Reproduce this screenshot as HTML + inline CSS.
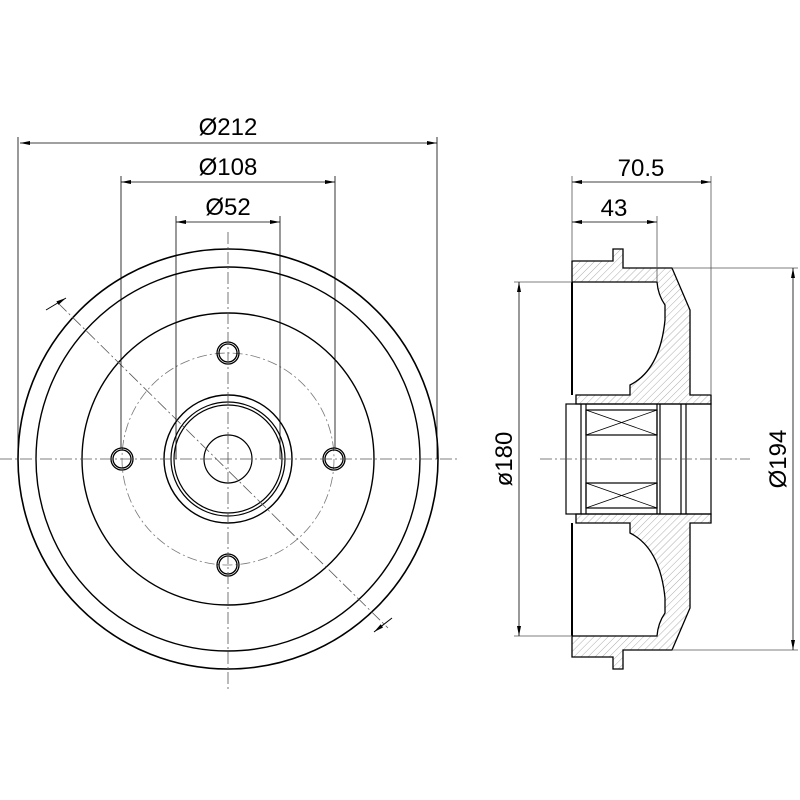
<!DOCTYPE html>
<html><head><style>html,body{margin:0;padding:0;background:#fff;}svg{display:block}</style></head>
<body>
<svg width="800" height="800" viewBox="0 0 800 800" xmlns="http://www.w3.org/2000/svg" font-family="Liberation Sans, sans-serif">
<defs>
<pattern id="h" width="5" height="5" patternUnits="userSpaceOnUse" patternTransform="rotate(45)">
<line x1="0" y1="0" x2="0" y2="5" stroke="#999" stroke-width="0.8"/>
</pattern>
<marker id="a" viewBox="0 0 10 4" refX="10" refY="2" markerWidth="12" markerHeight="4" orient="auto-start-reverse" markerUnits="userSpaceOnUse"><path d="M0,0 L10,2 L0,4z" fill="#000"/></marker>
</defs>
<g fill="none" stroke="#000">
<circle cx="228" cy="459" r="210" stroke-width="1.6"/>
<circle cx="228" cy="459" r="192" stroke-width="1.4"/>
<circle cx="228" cy="459" r="146" stroke-width="1.4"/>
<circle cx="228" cy="459" r="106" stroke="#777" stroke-width="0.8" stroke-dasharray="10,3,2,3"/>
<circle cx="228" cy="459" r="64" stroke-width="1.4"/>
<circle cx="228" cy="459" r="57" stroke-width="1.2"/>
<circle cx="228" cy="459" r="54" stroke-width="1.2"/>
<circle cx="228" cy="459" r="24" stroke-width="1.2"/>
<g stroke-width="1.3">
<circle cx="122" cy="459" r="11"/><circle cx="122" cy="459" r="9"/>
<circle cx="334" cy="459" r="11"/><circle cx="334" cy="459" r="9"/>
<circle cx="228" cy="353" r="11"/><circle cx="228" cy="353" r="9"/>
<circle cx="228" cy="565" r="11"/><circle cx="228" cy="565" r="9"/>
</g>
<g stroke="#555" stroke-width="0.8" stroke-dasharray="12,3,2,3">
<line x1="0" y1="459" x2="460" y2="459"/>
<line x1="228" y1="232" x2="228" y2="690"/>
<line x1="58" y1="303" x2="388" y2="628"/>
</g>
<line x1="46" y1="310" x2="66" y2="298" stroke-width="1" marker-end="url(#a)"/>
<line x1="392" y1="618" x2="374" y2="632" stroke-width="1" marker-end="url(#a)"/>
<g stroke-width="0.8">
<line x1="20" y1="143" x2="437" y2="143" marker-start="url(#a)" marker-end="url(#a)"/>
<line x1="437" y1="137" x2="437" y2="459"/>
<line x1="18" y1="137" x2="18" y2="459"/>
<line x1="121" y1="182" x2="335" y2="182" marker-start="url(#a)" marker-end="url(#a)"/>
<line x1="121" y1="176" x2="121" y2="448"/>
<line x1="335" y1="176" x2="335" y2="448"/>
<line x1="176" y1="222" x2="280" y2="222" marker-start="url(#a)" marker-end="url(#a)"/>
<line x1="176" y1="216" x2="176" y2="459"/>
<line x1="280" y1="216" x2="280" y2="459"/>
</g>
</g>
<g font-size="24" text-anchor="middle" fill="#000">
<text x="228" y="135">Ø212</text>
<text x="228" y="175">Ø108</text>
<text x="228" y="215">Ø52</text>
<text x="641" y="176">70.5</text>
<text x="614" y="216">43</text>
<text transform="translate(512,459) rotate(-90)">ø180</text>
<text transform="translate(786,459) rotate(-90)">Ø194</text>
</g>
<g stroke="#000" stroke-width="1.3" fill="url(#h)">
<path d="M572,261 L613,261 L613,249 L623,249 L623,268 L672,268 L690,310 L690,395 L711,395 L711,404 L576,404 L576,395 L630,395 L630,385 Q660,370 665,320 L665,305 Q658,295 657,282 L572,282 Z"/>
<path d="M572,657 L613,657 L613,669 L623,669 L623,650 L672,650 L690,608 L690,523 L711,523 L711,514 L576,514 L576,523 L630,523 L630,533 Q660,548 665,598 L665,613 Q658,623 657,636 L572,636 Z"/>
</g>
<g fill="none" stroke="#000" stroke-width="1.2">
<line x1="572" y1="282" x2="572" y2="395" stroke-width="2"/>
<line x1="572" y1="523" x2="572" y2="636" stroke-width="2"/>
<rect x="566" y="404" width="145" height="110"/>
<line x1="581" y1="404" x2="581" y2="514"/>
<line x1="586" y1="404" x2="586" y2="514"/>
<line x1="657" y1="404" x2="657" y2="514"/>
<line x1="660" y1="404" x2="660" y2="514"/>
<line x1="681" y1="404" x2="681" y2="514"/>
<line x1="686" y1="404" x2="686" y2="514"/>
<rect x="586" y="410" width="71" height="25"/>
<rect x="586" y="483" width="71" height="25"/>
<path d="M586,410 L657,435 M657,410 L586,435 M586,483 L657,508 M657,483 L586,508" stroke-width="0.8"/>
</g>
<g stroke="#555" stroke-width="0.8" fill="none">
<line x1="540" y1="459" x2="750" y2="459" stroke-dasharray="12,3,2,3"/>
<line x1="572" y1="176" x2="572" y2="261"/>
<line x1="711" y1="176" x2="711" y2="395"/>
<line x1="657" y1="216" x2="657" y2="282"/>
<line x1="572" y1="182" x2="711" y2="182" stroke="#000" marker-start="url(#a)" marker-end="url(#a)"/>
<line x1="572" y1="222" x2="657" y2="222" stroke="#000" marker-start="url(#a)" marker-end="url(#a)"/>
<line x1="514" y1="282" x2="572" y2="282"/>
<line x1="514" y1="636" x2="572" y2="636"/>
<line x1="519" y1="282" x2="519" y2="636" stroke="#000" marker-start="url(#a)" marker-end="url(#a)"/>
<line x1="672" y1="268" x2="798" y2="268"/>
<line x1="672" y1="650" x2="798" y2="650"/>
<line x1="793" y1="268" x2="793" y2="650" stroke="#000" marker-start="url(#a)" marker-end="url(#a)"/>
</g>
</svg>
</body></html>
